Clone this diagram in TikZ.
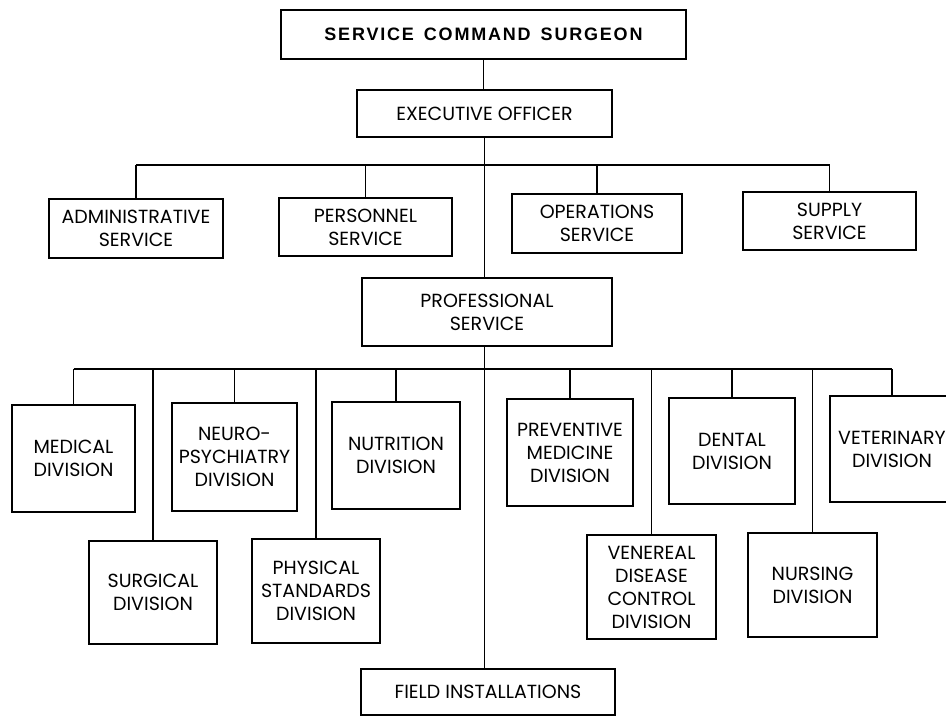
\documentclass[tikz,border=0pt]{standalone}
\usepackage{fontspec}
\setmainfont{Poppins}
\newfontfamily\topfont[LetterSpace=10]{Liberation Sans}
\begin{document}
\begin{tikzpicture}[x=1pt,y=-1pt,
  box/.style={draw, line width=1.3pt, inner sep=0pt, outer sep=0pt, align=center,
    font=\fontsize{19}{23}\selectfont},
  conn/.style={line width=1.3pt}]
\useasboundingbox (0,0) rectangle (946,717);
\clip (0,0) rectangle (946,717);
% top levels
\node[box, minimum width=405pt, minimum height=49pt, font=\fontsize{18}{21}\selectfont] (top) at (483.5,34.5)
  {\topfont\bfseries SERVICE\hspace{10pt}COMMAND\hspace{10pt}SURGEON};
\node[box, minimum width=255pt, minimum height=47pt] (exec) at (484.5,113.5) {EXECUTIVE OFFICER};
% services
\node[box, minimum width=174pt, minimum height=59pt] (admin) at (136,228.5) {ADMINISTRATIVE\\SERVICE};
\node[box, minimum width=173pt, minimum height=58pt] (pers) at (365.5,227) {PERSONNEL\\SERVICE};
\node[box, minimum width=170pt, minimum height=59pt] (oper) at (597,223.5) {OPERATIONS\\SERVICE};
\node[box, minimum width=173pt, minimum height=58pt] (supply) at (829.5,221) {SUPPLY\\SERVICE};
\node[box, minimum width=250pt, minimum height=68pt] (prof) at (487,312) {PROFESSIONAL\\SERVICE};
% divisions, upper row
\node[box, minimum width=123pt, minimum height=107pt] (medical) at (73.5,458.5) {MEDICAL\\DIVISION};
\node[box, minimum width=125pt, minimum height=108pt] (neuro) at (234.5,457) {NEURO-\\PSYCHIATRY\\DIVISION};
\node[box, minimum width=128pt, minimum height=107pt] (nutrition) at (396,455.5) {NUTRITION\\DIVISION};
\node[box, minimum width=126pt, minimum height=107pt] (prevent) at (570,452.5) {PREVENTIVE\\MEDICINE\\DIVISION};
\node[box, minimum width=126pt, minimum height=106pt] (dental) at (732,451) {DENTAL\\DIVISION};
\node[box, minimum width=124pt, minimum height=106pt] (vet) at (892,449) {VETERINARY\\DIVISION};
% divisions, lower row
\node[box, minimum width=128pt, minimum height=103pt] (surgical) at (153,592.5) {SURGICAL\\DIVISION};
\node[box, minimum width=128pt, minimum height=104pt] (physical) at (316,591) {PHYSICAL\\STANDARDS\\DIVISION};
\node[box, minimum width=129pt, minimum height=104pt] (venereal) at (651.5,587) {VENEREAL\\DISEASE\\CONTROL\\DIVISION};
\node[box, minimum width=129pt, minimum height=104pt] (nursing) at (812.5,585) {NURSING\\DIVISION};
\node[box, minimum width=254pt, minimum height=46pt] (field) at (488,692) {FIELD INSTALLATIONS};
% bus coordinates
\coordinate (b1) at (484,165);
\coordinate (b2) at (485,369);
% connectors
\draw[conn] (top.south) -- (top.south |- exec.north);
\draw[conn] (exec.south) -- (exec.south |- prof.north);
\draw[conn] (exec.south |- prof.south) -- (exec.south |- field.north);
\draw[conn] (admin.north |- b1) -- (supply.north |- b1);
\foreach \n in {admin,pers,oper,supply}
  \draw[conn] (\n.north) -- (\n.north |- b1);
\draw[conn] (medical.north |- b2) -- (vet.north |- b2);
\foreach \n in {medical,neuro,nutrition,prevent,dental,vet,surgical,physical,venereal,nursing}
  \draw[conn] (\n.north) -- (\n.north |- b2);
\end{tikzpicture}
\end{document}
